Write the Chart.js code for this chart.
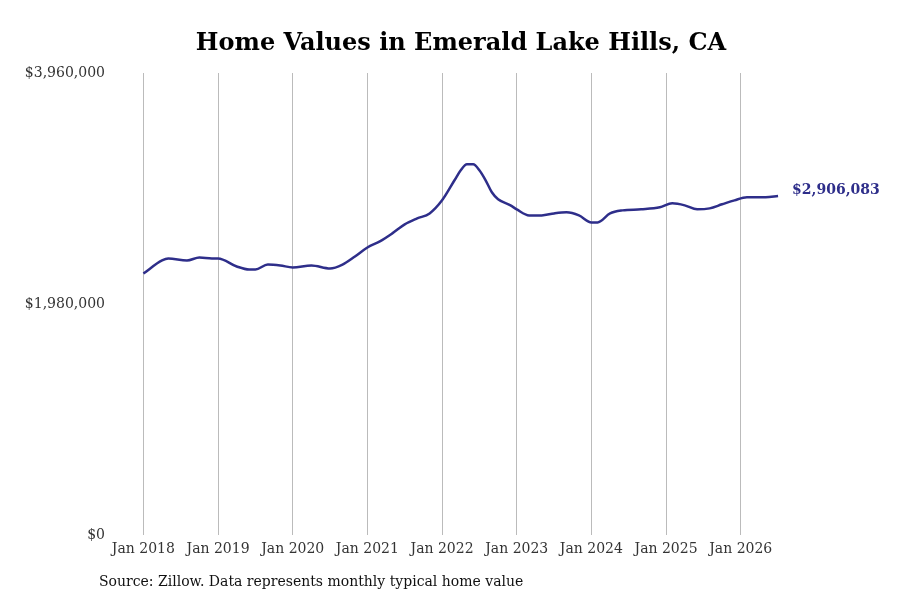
<!DOCTYPE html>
<html>
<head>
<meta charset="utf-8">
<script src="https://cdn.jsdelivr.net/npm/chart.js@4"></script>
<style>
  body { margin: 0; background: #fff; }
  #wrap { position: relative; width: 900px; height: 600px; }
  #source { position: absolute; left: 99px; top: 573px; font: 14px "DejaVu Serif", serif; color: #111; }
</style>
</head>
<body>
<div id="wrap">
  <canvas id="line" width="900" height="600"></canvas>
  <div id="source">Source: Zillow. Data represents monthly typical home value</div>
</div>
<script>
const months = ['2018-01','2018-04','2018-05','2018-08','2018-10','2018-12','2019-01','2019-04','2019-06','2019-07','2019-09','2019-11',
  '2020-01','2020-04','2020-07','2020-09','2020-11','2021-01','2021-03','2021-05','2021-07','2021-09','2021-11',
  '2022-01','2022-03','2022-04','2022-05','2022-06','2022-07','2022-08','2022-09','2022-10','2022-12',
  '2023-01','2023-03','2023-05','2023-07','2023-09','2023-11','2024-01','2024-02','2024-04','2024-06','2024-09','2024-12',
  '2025-02','2025-04','2025-06','2025-08','2025-10','2025-12','2026-02','2026-05','2026-07'];
const homeValues = [2242000,2354000,2371000,2354000,2379000,2371000,2371000,2302000,2276000,2276000,2319000,2311000,
  2294000,2311000,2285000,2319000,2388000,2465000,2517000,2586000,2663000,2714000,2757000,
  2869000,3041000,3127000,3178000,3178000,3127000,3041000,2938000,2878000,2826000,
  2792000,2740000,2740000,2757000,2766000,2740000,2680000,2680000,2757000,2783000,2792000,2809000,
  2843000,2826000,2792000,2800000,2835000,2869000,2895000,2895000,2906083];
const yTicks = [0, 1980000, 3960000];
const lastLabel = '$2,906,083';
const titleText = 'Home Values in Emerald Lake Hills, CA';

const points = months.map((m, i) => {
  const [y, mo] = m.split('-').map(Number);
  return { x: y + (mo - 1) / 12, y: homeValues[i] };
});
const money = v => '$' + v.toLocaleString('en-US');
const serif = '"DejaVu Serif", serif';

const extras = {
  id: 'extras',
  afterDatasetsDraw(chart) {
    const pt = chart.getDatasetMeta(0).data.at(-1);
    const ctx = chart.ctx;
    ctx.save();
    ctx.font = 'bold 14px ' + serif;
    ctx.fillStyle = '#2e2e8a';
    ctx.textBaseline = 'middle';
    ctx.fillText(lastLabel, pt.x + 14, pt.y - 6);
    ctx.font = 'bold 24px ' + serif;
    ctx.fillStyle = '#000';
    ctx.textAlign = 'center';
    ctx.fillText(titleText, 461, 44);
    ctx.restore();
  }
};

new Chart(document.getElementById('line'), {
  type: 'line',
  data: {
    datasets: [{
      data: points,
      borderColor: '#2e2e8a',
      borderWidth: 2.5,
      pointRadius: 0,
      tension: 0.4,
      cubicInterpolationMode: 'monotone'
    }]
  },
  options: {
    responsive: false,
    animation: false,
    layout: { padding: { left: 17, right: 107, bottom: 36, top: 73 } },
    plugins: {
      legend: { display: false },
      tooltip: { enabled: false },
      title: { display: false }
    },
    scales: {
      x: {
        type: 'linear',
        min: 2017.7,
        max: 2026.7,
        afterBuildTicks: axis => {
          axis.ticks = [];
          for (let y = 2018; y <= 2026; y++) axis.ticks.push({ value: y });
        },
        grid: { color: '#bbb', drawTicks: false },
        border: { display: false },
        ticks: {
          padding: 6,
          color: '#333',
          font: { family: serif, size: 14 },
          callback: v => 'Jan ' + v
        }
      },
      y: {
        min: 0,
        max: 3960000,
        afterBuildTicks: axis => { axis.ticks = yTicks.map(v => ({ value: v })); },
        afterFit: axis => { axis.width = 104; },
        grid: { display: false },
        border: { display: false },
        ticks: {
          padding: 8,
          color: '#333',
          font: { family: serif, size: 14 },
          callback: v => money(v)
        }
      }
    }
  },
  plugins: [extras]
});
</script>
</body>
</html>
